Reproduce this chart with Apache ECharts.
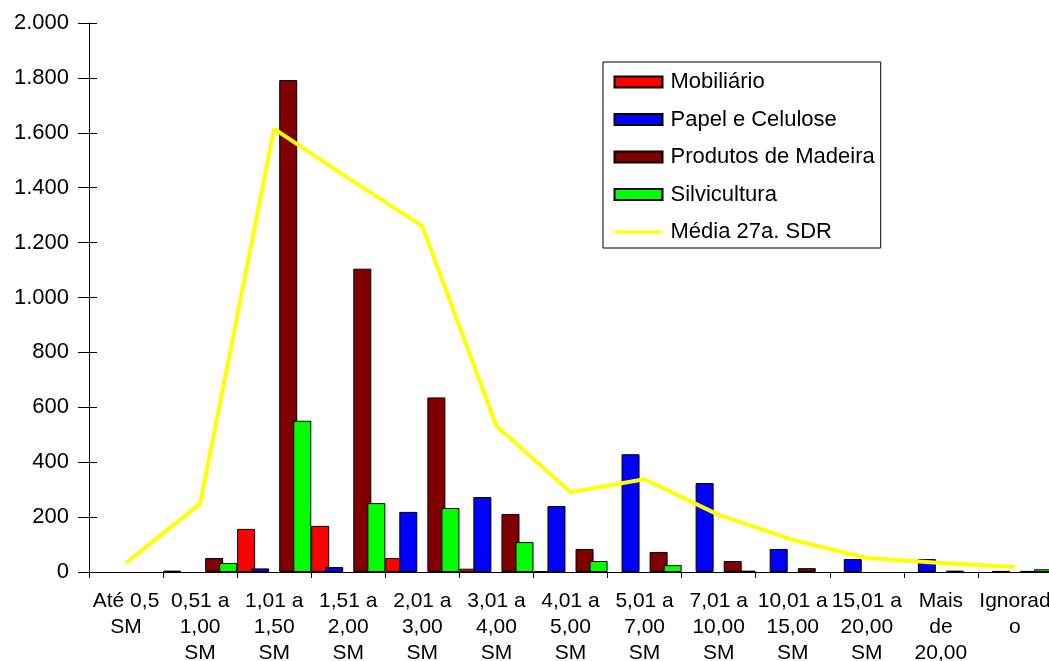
<!DOCTYPE html>
<html>
<head>
<meta charset="utf-8">
<script src="https://cdn.jsdelivr.net/npm/echarts@6/dist/echarts.min.js"></script>
<style>
  html, body { margin: 0; padding: 0; background: #fff; }
  #chart { width: 1049px; height: 661px; }
</style>
</head>
<body>
<div id="chart"></div>
<script>
// faixas de salário mínimo
var categorias = ['Até 0,5\nSM', '0,51 a\n1,00\nSM', '1,01 a\n1,50\nSM', '1,51 a\n2,00\nSM',
  '2,01 a\n3,00\nSM', '3,01 a\n4,00\nSM', '4,01 a\n5,00\nSM', '5,01 a\n7,00\nSM',
  '7,01 a\n10,00\nSM', '10,01 a\n15,00\nSM', '15,01 a\n20,00\nSM', 'Mais\nde\n20,00', 'Ignorad\no'];

var mobiliario = [0, 5, 157, 168, 51, 12, 3, 0, 0, 0, 0, 0, 0];
var papel = [0, 0, 13, 18, 219, 273, 240, 429, 324, 84, 47, 47, 4];
var madeira = [0, 51, 1792, 1105, 636, 211, 84, 73, 40, 14, 0, 5, 4];
var silvicultura = [0, 33, 551, 251, 233, 109, 40, 25, 5, 0, 0, 0, 10];
var media = [33, 248, 1614, 1435, 1260, 532, 291, 338, 208, 117, 51, 33, 18];
// série vazia que ocupa o terceiro espaço de cada grupo, como no original
var vazia = categorias.map(function () { return 0; });

var fonte = 'Liberation Sans, Arial, sans-serif';

function barra(nome, cor, dados) {
  return {
    name: nome,
    type: 'bar',
    // zeros não aparecem no original
    data: dados.map(function (v) { return v === 0 ? '-' : v; }),
    barWidth: 18,
    barGap: '-22%',
    barCategoryGap: 0,
    itemStyle: { color: cor, borderColor: '#000', borderWidth: 1 }
  };
}

function milhar(v) {
  if (v < 1000) return String(v);
  var resto = String(v % 1000);
  while (resto.length < 3) resto = '0' + resto;
  return Math.floor(v / 1000) + '.' + resto;
}

var chart = echarts.init(document.getElementById('chart'));
chart.setOption({
  animation: false,
  backgroundColor: '#fff',
  textStyle: { fontFamily: fonte },
  grid: { left: 89, top: 23, width: 963, height: 549, outerBoundsMode: 'none' },
  legend: {
    orient: 'vertical',
    left: 603,
    top: 62,
    width: 290,
    padding: [9, 6, 5, 10],
    itemWidth: 48,
    itemHeight: 11,
    itemGap: 15.5,
    borderColor: '#000',
    borderWidth: 1,
    backgroundColor: '#fff',
    textStyle: { fontFamily: fonte, fontSize: 22, color: '#000', padding: [0, 0, 0, 3] },
    data: [
      { name: 'Mobiliário', icon: 'rect' },
      { name: 'Papel e Celulose', icon: 'rect' },
      { name: 'Produtos de Madeira', icon: 'rect' },
      { name: 'Silvicultura', icon: 'rect' },
      { name: 'Média 27a. SDR', itemStyle: { opacity: 0 }, lineStyle: { width: 3 } }
    ]
  },
  xAxis: {
    type: 'category',
    data: categorias,
    boundaryGap: true,
    axisLine: { lineStyle: { color: '#000', width: 1 } },
    axisTick: { show: true, length: 6, lineStyle: { color: '#000' } },
    axisLabel: {
      interval: 0,
      color: '#000',
      fontFamily: fonte,
      fontSize: 21,
      lineHeight: 26,
      margin: 16
    },
    splitLine: { show: false }
  },
  yAxis: [{
    type: 'value',
    min: 0,
    max: 2000,
    interval: 200,
    axisLine: { show: true, lineStyle: { color: '#000', width: 1 } },
    axisTick: { show: true, length: 11, lineStyle: { color: '#000' } },
    axisLabel: {
      color: '#000',
      fontFamily: fonte,
      fontSize: 22,
      margin: 20,
      formatter: milhar
    },
    splitLine: { show: false }
  }, {
    // marcas cruzando o eixo para dentro
    type: 'value',
    position: 'left',
    min: 0,
    max: 2000,
    interval: 200,
    axisLine: { show: false },
    axisTick: { show: true, inside: true, length: 8, lineStyle: { color: '#000' } },
    axisLabel: { show: false },
    splitLine: { show: false }
  }],
  series: [
    barra('Mobiliário', '#ff0000', mobiliario),
    barra('Papel e Celulose', '#0000ff', papel),
    barra('vazia', '#ffffff', vazia),
    barra('Produtos de Madeira', '#800000', madeira),
    barra('Silvicultura', '#00ff00', silvicultura),
    {
      name: 'Média 27a. SDR',
      type: 'line',
      data: media,
      symbol: 'none',
      z: 5,
      lineStyle: { color: '#ffff00', width: 4 },
      itemStyle: { color: '#ffff00' }
    }
  ]
});
</script>
</body>
</html>
